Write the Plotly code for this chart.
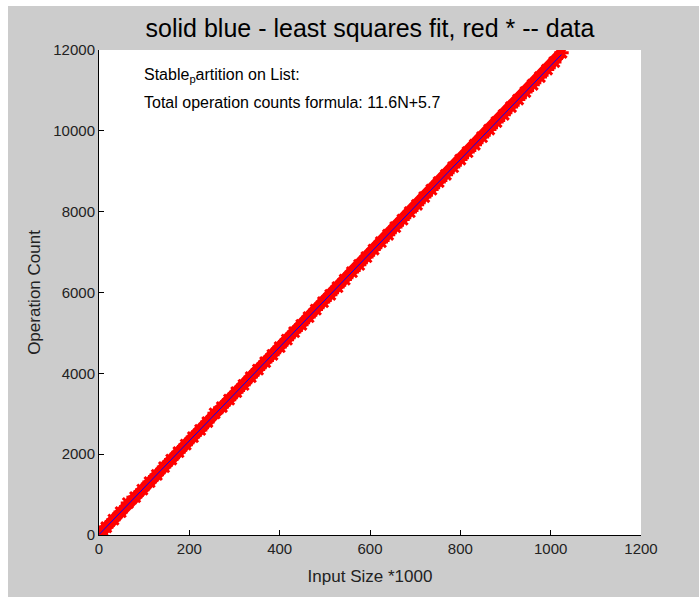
import numpy as np
import plotly.graph_objects as go

# Input sizes (*1000) and measured operation counts
input_size = [1, 2, 4, 8, 16, 32, 48, 64, 80, 96, 112, 128, 144, 160, 176, 192, 208,
              224, 240, 256, 272, 288, 304, 320, 336, 352, 368, 384, 400, 416, 432,
              448, 464, 480, 496, 512, 528, 544, 560, 576, 592, 608, 624, 640, 656,
              672, 688, 704, 720, 736, 752, 768, 784, 800, 816, 832, 848, 864, 880,
              896, 912, 928, 944, 960, 976, 992, 1008, 1024]
op_count = [18, 29, 52, 99, 192, 380, 566, 790, 938, 1122, 1309, 1488, 1680, 1866,
            2050, 2236, 2422, 2601, 2794, 3010, 3165, 3349, 3535, 3715, 3907, 4092,
            4278, 4458, 4649, 4834, 5020, 5200, 5391, 5577, 5762, 5943, 6133, 6319,
            6505, 6684, 6876, 7062, 7247, 7428, 7618, 7804, 7989, 8170, 8361, 8546,
            8732, 8912, 9103, 9289, 9474, 9655, 9845, 10031, 10217, 10396, 10588,
            10774, 10959, 11140, 11330, 11516, 11702, 11930]

x_ticks = [0, 200, 400, 600, 800, 1000, 1200]
y_ticks = [0, 2000, 4000, 6000, 8000, 10000, 12000]
y_tick_text = ["0", "2000", "4000", "6000", "8000", "10000", "12000"]

# least squares fit
coef = np.polyfit(input_size, op_count, 1)
fit_y = np.polyval(coef, input_size)

W, H = 699, 597
L, R, T, B = 99, 641, 50, 535

fig = go.Figure()
fig.add_trace(go.Scatter(x=input_size, y=op_count, mode="lines+markers",
                         line=dict(color="#ff0000", width=11),
                         marker=dict(symbol="asterisk", size=12, color="#ff0000",
                                     line=dict(color="#ff0000", width=3)),
                         showlegend=False, hoverinfo="skip"))
fig.add_trace(go.Scatter(x=input_size, y=fit_y, mode="lines",
                         line=dict(color="#0000ff", width=1),
                         showlegend=False, hoverinfo="skip"))

def px_x(p):
    return (p - L) / (R - L)

def px_y(p):
    return (B - p) / (B - T)

fig.add_shape(type="rect", xref="paper", yref="paper",
              x0=px_x(8), x1=px_x(700), y0=px_y(598), y1=px_y(6),
              fillcolor="#cccccc", line=dict(width=0), layer="below")
fig.add_shape(type="rect", xref="paper", yref="paper",
              x0=0, x1=1, y0=0, y1=1,
              fillcolor="#ffffff", line=dict(width=0), layer="below")

font = "Liberation Sans, Arial, sans-serif"
fig.add_annotation(xref="paper", yref="paper", x=px_x(142), y=px_y(75),
                   text="Stable<sub>p</sub>artition on List:", showarrow=False,
                   xanchor="left", yanchor="middle",
                   font=dict(family=font, size=16, color="#000000"))
fig.add_annotation(xref="paper", yref="paper", x=px_x(142), y=px_y(103),
                   text="Total operation counts formula: 11.6N+5.7", showarrow=False,
                   xanchor="left", yanchor="middle",
                   font=dict(family=font, size=16, color="#000000"))

fig.update_layout(
    width=W, height=H,
    margin=dict(l=L, r=W - R, t=T, b=H - B),
    paper_bgcolor="#ffffff", plot_bgcolor="#ffffff",
    title=dict(text="solid blue - least squares fit, red * -- data",
               x=(L + R) / 2 / W, xanchor="center", y=1 - 28 / H, yanchor="middle",
               font=dict(family=font, size=25, color="#000000")),
    font=dict(family=font, size=15, color="#222222"),
    xaxis=dict(range=[0, 1200], tickvals=x_ticks, ticks="inside", ticklen=5,
               tickcolor="#000000", showline=True, linecolor="#000000", linewidth=1,
               showgrid=False, zeroline=False, mirror=False,
               title=dict(text="Input Size *1000", font=dict(size=17, color="#222222"),
                          standoff=14),
               tickfont=dict(size=15, color="#222222")),
    yaxis=dict(range=[0, 12000], tickvals=y_ticks, ticktext=y_tick_text,
               ticks="inside", ticklen=5,
               tickcolor="#000000", showline=True, linecolor="#000000", linewidth=1,
               showgrid=False, zeroline=False, mirror=False,
               title=dict(text="Operation Count", font=dict(size=17, color="#222222"),
                          standoff=8),
               tickfont=dict(size=15, color="#222222")),
)

fig.write_html("out.html")
